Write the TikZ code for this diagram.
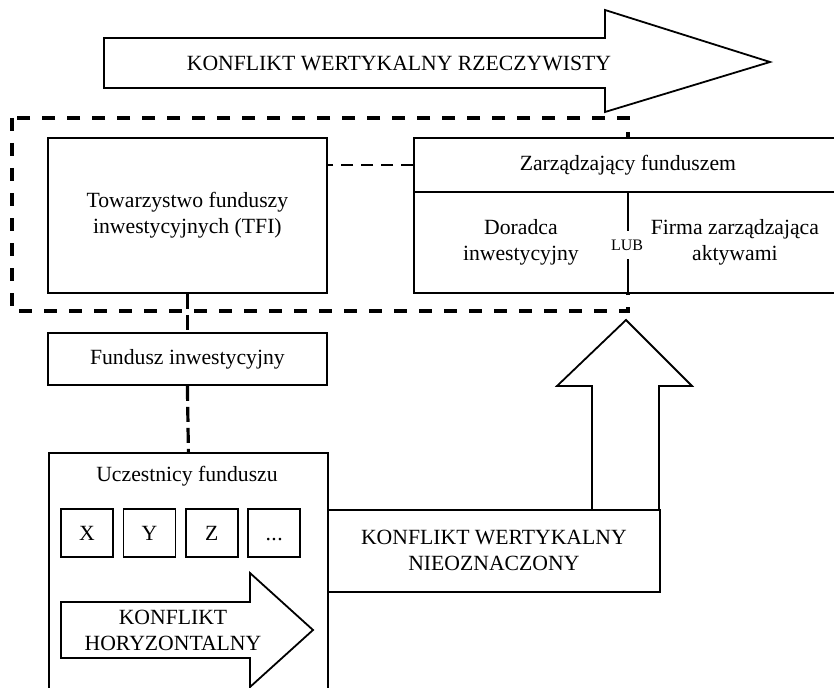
\documentclass[tikz,border=0pt]{standalone}
\usepackage{fontspec}
\setmainfont{Liberation Serif}
\usetikzlibrary{
    calc,
    positioning
}
\newcommand{\tekstfont}{\fontsize{21.7}{26}\selectfont}
\newcommand{\malyfont}{\fontsize{16}{18}\selectfont}
\newcommand{\kropki}{.\kern0.5pt.\kern0.5pt.}
\tikzset{
  every path/.style={
    black,
    line width=1.8pt
  },
  every node/.style={
    font=\tekstfont,
    align=center,
    inner sep=0pt
  },
  box/.style={
    draw,
    fill=white,
    anchor=north west
  },
  ramka/.style={
    line width=3.6pt,
    dash pattern=on 13pt off 12pt
  },
  laczenie/.style={
    line width=3.2pt,
    dash pattern=on 15pt off 6pt
  },
  laczenie cienkie/.style={
    line width=2.6pt,
    dash pattern=on 12pt off 8pt
  }
}

\begin{document}
\begin{tikzpicture}[x=1pt,y=-1pt]
    \useasboundingbox (0,0) rectangle (834,687);

    % strzałka górna
    \draw (104,38) -- (605,38) -- (605,10) -- (770,62)
        -- (605,112) -- (605,88) -- (104,88) -- cycle;
    \node (rzecz) at (399,63) {KONFLIKT WERTYKALNY RZECZYWISTY};

    % ramka TFI + zarządzający
    \draw[ramka] (12,118) rectangle (628,311);

    % TFI
    \node[box,minimum width=279pt,minimum height=155pt] (tfi) at (47,137)
        {Towarzystwo funduszy\\inwestycyjnych (TFI)};

    % zarządzający funduszem
    \node[box,minimum width=428pt,minimum height=54pt] (zarz) at (413,137)
        {Zarządzający funduszem};
    \node[box,minimum width=214pt,minimum height=101pt] (doradca) at (413,191)
        {Doradca\\inwestycyjny};
    \node[box,minimum width=214pt,minimum height=101pt] (firma) at (627,191)
        {Firma zarządzająca\\aktywami};
    \node[fill=white,font=\malyfont,inner xsep=1pt,inner ysep=9pt] (lub)
        at (627,245) {LUB};

    % fundusz
    \node[box,minimum width=279pt,minimum height=52pt] (fundusz) at (47,332)
        {Fundusz inwestycyjny};

    % uczestnicy
    \node[box,minimum width=279pt,minimum height=260pt] (uczestnicy) at (48,452) {};
    \node (tytul) at (187,476) {Uczestnicy funduszu};
    \foreach \n/\t [count=\i] in {a/X,b/Y,c/Z,d/\kropki}
        \node[draw,minimum width=52pt,minimum height=48pt,
              text height=15pt,text depth=0pt] (u\n)
            at ({87+62.4*(\i-1)},533) {\t};

    % konflikt horyzontalny
    \draw (61,602) -- (250,602) -- (250,573) -- (313,630)
        -- (250,687) -- (250,658) -- (61,658) -- cycle;
    \node (horyz) at (173,630) {KONFLIKT\\HORYZONTALNY};

    % konflikt nieoznaczony
    \node[box,minimum width=332pt,minimum height=82pt] (nieozn) at (327,509)
        {KONFLIKT WERTYKALNY\\NIEOZNACZONY};
    \draw (592,509) -- (592,386) -- (557,386) -- (626,320)
        -- (692,386) -- (659,386) -- (659,509);

    % połączenia
    \draw[laczenie cienkie] (zarz.west) -- (zarz.west -| tfi.east);
    \draw[laczenie] (tfi.south) -- (fundusz.north);
    \draw[laczenie] (fundusz.south) -- (uczestnicy.north);
\end{tikzpicture}
\end{document}
